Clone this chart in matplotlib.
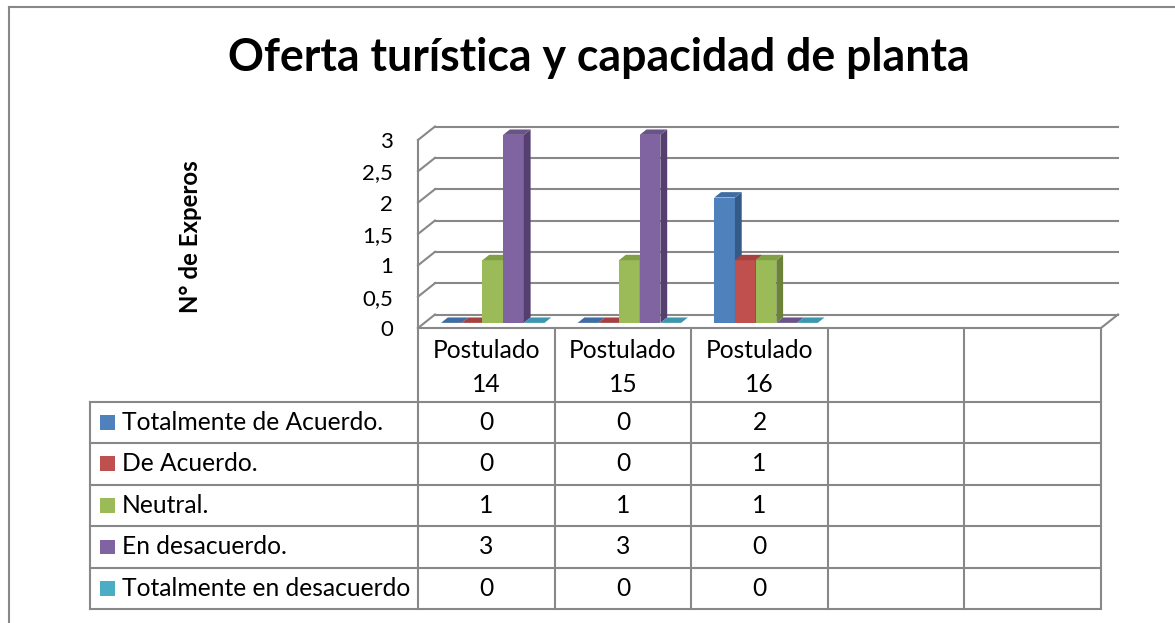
import matplotlib
matplotlib.use("Agg")
import matplotlib.pyplot as plt
from matplotlib.patches import Polygon, Rectangle
from matplotlib.lines import Line2D

plt.rcParams['font.family'] = ['Lato', 'DejaVu Sans']

# chart data
title = "Oferta turística y capacidad de planta"
ylabel = "N° de Experos"
categories = ["Postulado\n14", "Postulado\n15", "Postulado\n16", "", ""]
series = ["Totalmente de Acuerdo.", "De Acuerdo.", "Neutral.",
          "En desacuerdo.", "Totalmente en desacuerdo"]
totalmente_de_acuerdo = [0, 0, 2]
de_acuerdo = [0, 0, 1]
neutral = [1, 1, 1]
en_desacuerdo = [3, 3, 0]
totalmente_en_desacuerdo = [0, 0, 0]
yticks = [0, 0.5, 1, 1.5, 2, 2.5, 3]
ytick_labels = ["0", "0,5", "1", "1,5", "2", "2,5", "3"]

values = [totalmente_de_acuerdo, de_acuerdo, neutral, en_desacuerdo,
          totalmente_en_desacuerdo]

front_colors = ["#4F81BD", "#C0504D", "#9BBB59", "#8064A2", "#4BACC6"]
side_colors = ["#345A88", "#883532", "#6B8238", "#543F70", "#2F7F94"]
top_colors = ["#3F6DA3", "#A5413E", "#819F45", "#6A5389", "#3B96AE"]
grid = "#888888"

W, H = 1175, 623
fig = plt.figure(figsize=(W / 100, H / 100), dpi=100)
renderer = fig.canvas.get_renderer()


def px_box(x0, y0, x1, y1):
    return [x0 / W, 1 - y1 / H, (x1 - x0) / W, (y1 - y0) / H]


def fit(s, target, weight="normal"):
    t = fig.text(0, 0, s, fontsize=20, fontweight=weight)
    w = t.get_window_extent(renderer).width
    t.remove()
    return 20 * target / w


table_fs = fit("Totalmente en desacuerdo", 290)
title_fs = fit(title, 742, "bold")
ylab_fs = fit(ylabel, 153, "bold")
tick_fs = fit("0,5", 31)

# plot area (front plane)
ax = fig.add_axes(px_box(418, 140, 1101, 328))
ax.set_xlim(-0.5, 4.5)
ax.set_ylim(0, 3)
ax.patch.set_visible(False)
for sp in ax.spines.values():
    sp.set_visible(False)
ax.set_xticks([])
ax.set_yticks(yticks, ytick_labels)
ax.tick_params(axis="y", length=0, pad=18, labelsize=tick_fs)

cat_px = 683 / 5
val_px = 188 / 3
dx, dy = 17 / cat_px, 13.5 / val_px
lw = 1.5

# walls and floor
for v in yticks:
    ax.plot([-0.5 + dx, 4.5 + dx], [v + dy, v + dy], color=grid, lw=lw,
            clip_on=False, zorder=1)
    ax.plot([-0.5, -0.5 + dx], [v, v + dy], color=grid, lw=lw,
            clip_on=False, zorder=1)
ax.plot([-0.5, -0.5], [0, 3], color=grid, lw=lw, clip_on=False, zorder=1)
ax.plot([-0.5, 4.5], [0, 0], color=grid, lw=lw, clip_on=False, zorder=1)
ax.plot([4.5, 4.5 + dx], [0, dy], color=grid, lw=lw, clip_on=False, zorder=1)

# 3d-ish columns
bw = 0.1515
f0, fd = 0.38, 0.4
sx, sy = fd * dx, fd * dy
n = len(series)
for j in range(len(values[0])):
    for i, vals in enumerate(values):
        v = vals[j]
        x0 = j - n / 2 * bw + i * bw + f0 * dx
        y0 = f0 * dy
        z = 10 + j * 10 + i
        if v > 0:
            ax.add_patch(Rectangle((x0, y0), bw, v, fc=front_colors[i],
                                   ec="none", zorder=z, clip_on=False))
            ax.add_patch(Polygon([(x0 + bw, y0), (x0 + bw + sx, y0 + sy),
                                  (x0 + bw + sx, y0 + v + sy), (x0 + bw, y0 + v)],
                                 fc=side_colors[i], ec="none", zorder=z,
                                 clip_on=False))
        ax.add_patch(Polygon([(x0, y0 + v), (x0 + sx, y0 + v + sy),
                              (x0 + bw + sx, y0 + v + sy), (x0 + bw, y0 + v)],
                             fc=top_colors[i], ec="none", zorder=z,
                             clip_on=False))

# data table
header_h = 73.7 / 41.6
total = header_h + n
tab = fig.add_axes(px_box(418, 328, 1101, 609.3))
tab.set_xlim(-0.5, 4.5)
tab.set_ylim(total, 0)
tab.axis("off")
left_x = -0.5 - (418 - 90) / cat_px

for k in range(n + 1):
    tab.plot([left_x, 4.5], [header_h + k] * 2, color=grid, lw=lw,
             clip_on=False)
for j in range(len(categories) + 1):
    tab.plot([-0.5 + j] * 2, [0, total], color=grid, lw=lw, clip_on=False)
tab.plot([left_x] * 2, [header_h, total], color=grid, lw=lw, clip_on=False)

for j, c in enumerate(categories):
    tab.text(j, header_h / 2 + 0.07, c, ha="center", va="center",
             fontsize=table_fs, linespacing=1.6)

key_w = 15 / cat_px
for i, name in enumerate(series):
    yc = header_h + i + 0.5
    tab.add_patch(Rectangle((left_x + 10 / cat_px, yc - 0.18), key_w, 0.36,
                            fc=front_colors[i], ec="none", clip_on=False))
    tab.text(left_x + 31.5 / cat_px, yc, name, ha="left", va="center",
             fontsize=table_fs)
    for j, v in enumerate(values[i]):
        tab.text(j, yc, str(v), ha="center", va="center", fontsize=table_fs)

# titles
fig.text(599 / W, 1 - 58 / H, title, ha="center", va="center",
         fontsize=title_fs, fontweight="bold")
fig.text(191 / W, 1 - 237 / H, ylabel, ha="center", va="center",
         rotation=90, fontsize=ylab_fs, fontweight="bold")

# chart border (left and top edges visible)
fig.add_artist(Line2D([8.5 / W, 8.5 / W], [0, 1 - 7 / H], color=grid, lw=lw))
fig.add_artist(Line2D([8.5 / W, 1], [1 - 7 / H, 1 - 7 / H], color=grid, lw=lw))

fig.savefig("out.png", dpi=100)
